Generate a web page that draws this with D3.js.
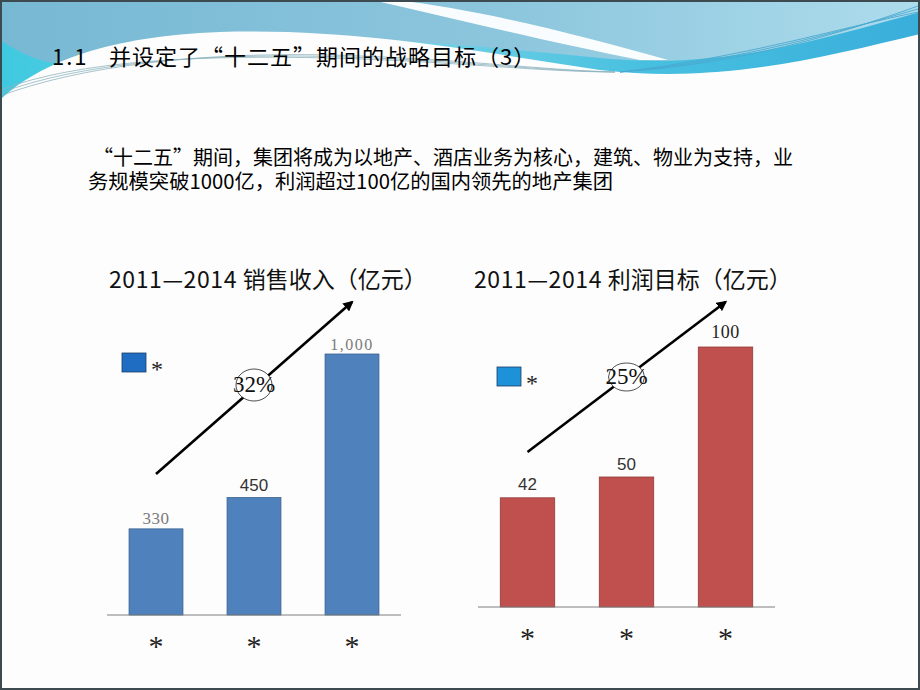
<!DOCTYPE html>
<html>
<head>
<meta charset="utf-8">
<script src="https://cdn.jsdelivr.net/npm/d3@7"></script>
<style>
  body { margin: 0; background: #fff; }
  svg { display: block; }
</style>
</head>
<body>
<div id="slide"></div>
<script>
  // datos del grafico
  const categorias = ["*", "*", "*"];
  const ventas = [330, 450, 1000];
  const ventasEtiquetas = ["330", "450", "1,000"];
  const beneficios = [42, 50, 100];
  const beneficiosEtiquetas = ["42", "50", "100"];
  const crecimiento = ["32%", "25%"];
  const leyenda = "*";
  const titulosAnyos = "2011\u20142014";
  const titulos = ["销售收入（亿元）", "利润目标（亿元）"];

  const width = 920, height = 690;
  const cjk = "'Noto Sans CJK SC', 'Noto Sans', sans-serif";
  const serif = "'Liberation Serif', 'DejaVu Serif', serif";
  const sans = "'Liberation Sans', Arial, sans-serif";

  const svg = d3.select("#slide")
    .append("svg")
    .attr("width", width)
    .attr("height", height);

  const defs = svg.append("defs");

  const gBase = defs.append("linearGradient").attr("id", "gBase")
    .attr("x1", 0).attr("x2", 1).attr("y1", 0).attr("y2", 0);
  gBase.append("stop").attr("offset", "0%").attr("stop-color", "#77b8d3");
  gBase.append("stop").attr("offset", "55%").attr("stop-color", "#8cc6dd");
  gBase.append("stop").attr("offset", "100%").attr("stop-color", "#addcec");

  const gTeal = defs.append("linearGradient").attr("id", "gTeal")
    .attr("x1", 0).attr("x2", 1).attr("y1", 0).attr("y2", 0);
  gTeal.append("stop").attr("offset", "0%").attr("stop-color", "#3ec9e0");
  gTeal.append("stop").attr("offset", "40%").attr("stop-color", "#7fd6e6");
  gTeal.append("stop").attr("offset", "70%").attr("stop-color", "#47c0e0");
  gTeal.append("stop").attr("offset", "100%").attr("stop-color", "#3aaedb");

  defs.append("marker")
    .attr("id", "flecha")
    .attr("viewBox", "0 0 10 10")
    .attr("refX", 8).attr("refY", 5)
    .attr("markerWidth", 4).attr("markerHeight", 4)
    .attr("orient", "auto")
    .append("path")
    .attr("d", "M0,0 L10,5 L0,10 Z")
    .attr("fill", "#000");

  // fondo
  svg.append("rect").attr("width", width).attr("height", height).attr("fill", "#fdfdfd");

  // cabecera azul
  svg.append("rect").attr("width", width).attr("height", 115).attr("fill", "url(#gBase)");
  svg.append("path")
    .attr("d", "M0,40 C30,60 60,70 90,60 C200,20 420,40 600,58 C720,70 820,40 920,12 L920,60 L0,115 Z")
    .attr("fill", "url(#gTeal)");
  // franja blanca diagonal
  svg.append("path")
    .attr("d", "M395,0 C470,8 570,32 668,60 L640,60 C540,40 460,20 372,0 Z")
    .attr("fill", "#fff").attr("opacity", 0.95);
  // zona blanca principal
  svg.append("path")
    .attr("d", "M0,100 C40,62 110,36 220,32 C360,28 480,52 600,70 C720,84 820,58 920,34 L920,690 L0,690 Z")
    .attr("fill", "#fdfdfd");
  // lineas finas
  [0, 3, 6].forEach(o => {
    svg.append("path")
      .attr("d", `M0,${96 - o} C80,${66 - o} 200,${52 + o / 2} 330,${55 + o / 2} C450,${58 + o / 2} 540,${70 + o / 3} 615,${72}`)
      .attr("fill", "none").attr("stroke", "#8fb4bf").attr("stroke-width", 0.8);
    svg.append("path")
      .attr("d", `M620,72 C740,${64 - o} 840,${34 - o} 918,${6 + o}`)
      .attr("fill", "none").attr("stroke", "#4aa9cf").attr("stroke-width", 0.9);
  });

  // titulo
  const titulo = svg.append("text")
    .attr("y", 65)
    .attr("font-family", cjk).attr("font-size", 22).attr("fill", "#000");
  titulo.append("tspan").attr("x", 52).attr("letter-spacing", 2).text("1.1");
  titulo.append("tspan").attr("x", 109).attr("letter-spacing", 1).text("并设定了“十二五”期间的战略目标（3）");

  // parrafo
  svg.append("text")
    .attr("x", 93).attr("y", 165)
    .attr("font-family", cjk).attr("font-size", 20).attr("fill", "#000")
    .text("“十二五”期间，集团将成为以地产、酒店业务为核心，建筑、物业为支持，业");
  svg.append("text")
    .attr("x", 88).attr("y", 189)
    .attr("font-family", cjk).attr("font-size", 20.3).attr("fill", "#000")
    .text("务规模突破1000亿，利润超过100亿的国内领先的地产集团");

  // funcion para dibujar cada grafico
  function grafico(cfg) {
    const g = svg.append("g");
    const x = d3.scaleBand()
      .domain(d3.range(cfg.valores.length))
      .range(cfg.rangoX)
      .paddingInner(0.45)
      .paddingOuter(0.225);
    const y = d3.scaleLinear()
      .domain([0, cfg.max])
      .range([cfg.base, cfg.top]);

    const t = g.append("text")
      .attr("x", cfg.tituloX).attr("y", 288)
      .attr("font-family", cjk).attr("font-size", 23).attr("fill", "#111");
    t.append("tspan").attr("letter-spacing", 0.6).text(titulosAnyos + " ");
    t.append("tspan").text(cfg.titulo);

    // flecha de crecimiento
    const x0 = x(0) + x.bandwidth() / 2, x1 = x(2) + x.bandwidth() / 2;
    const y0 = cfg.flechaY0, y1 = 302;
    g.append("line")
      .attr("x1", x0).attr("y1", y0)
      .attr("x2", x1).attr("y2", y1)
      .attr("stroke", "#000").attr("stroke-width", 2.6)
      .attr("marker-end", "url(#flecha)");
    const mx = (x0 + x1) / 2, my = (y0 + y1) / 2 + cfg.elDy;
    g.append("ellipse")
      .attr("cx", mx).attr("cy", my)
      .attr("rx", 18).attr("ry", cfg.ry)
      .attr("fill", "#fff").attr("stroke", "#222").attr("stroke-width", 0.8);
    g.append("text")
      .attr("x", mx).attr("y", my + 7)
      .attr("text-anchor", "middle")
      .attr("font-family", serif).attr("font-size", 23).attr("fill", "#111")
      .text(cfg.crec);

    // leyenda
    g.append("rect")
      .attr("x", cfg.leyenda[0]).attr("y", cfg.leyenda[1])
      .attr("width", 24).attr("height", 19)
      .attr("fill", cfg.colorLeyenda).attr("stroke", "#1d3d66").attr("stroke-width", 0.8);
    g.append("text")
      .attr("x", cfg.leyenda[0] + 29).attr("y", cfg.leyenda[1] + 24)
      .attr("font-family", serif).attr("font-size", 24).attr("fill", "#222")
      .text(leyenda);

    // barras
    g.selectAll("rect.barra")
      .data(cfg.valores)
      .enter()
      .append("rect")
      .attr("class", "barra")
      .attr("x", (d, i) => x(i))
      .attr("y", d => y(d))
      .attr("width", x.bandwidth())
      .attr("height", d => y(0) - y(d))
      .attr("fill", cfg.color)
      .attr("stroke", cfg.borde)
      .attr("stroke-width", 0.8);

    // etiquetas
    g.selectAll("text.etiqueta")
      .data(cfg.valores)
      .enter()
      .append("text")
      .attr("class", "etiqueta")
      .attr("x", (d, i) => x(i) + x.bandwidth() / 2)
      .attr("y", (d, i) => y(d) - cfg.etiquetaDy[i])
      .attr("text-anchor", "middle")
      .attr("font-family", (d, i) => cfg.etiquetaFuente[i])
      .attr("font-size", (d, i) => cfg.etiquetaTam[i])
      .attr("letter-spacing", (d, i) => cfg.etiquetaEsp[i])
      .attr("fill", (d, i) => cfg.etiquetaColor[i])
      .text((d, i) => cfg.etiquetas[i]);

    // eje
    g.append("line")
      .attr("x1", cfg.rangoX[0]).attr("x2", cfg.rangoX[1])
      .attr("y1", y(0)).attr("y2", y(0))
      .attr("stroke", "#7f7f7f").attr("stroke-width", 1);

    g.selectAll("text.cat")
      .data(categorias)
      .enter()
      .append("text")
      .attr("class", "cat")
      .attr("x", (d, i) => x(i) + x.bandwidth() / 2)
      .attr("y", y(0) + 41)
      .attr("text-anchor", "middle")
      .attr("font-family", serif).attr("font-size", 30).attr("fill", "#222")
      .text(d => d);
  }

  grafico({
    valores: ventas, etiquetas: ventasEtiquetas, max: 1000,
    rangoX: [107, 401], base: 615, top: 354,
    titulo: titulos[0], tituloX: 109,
    color: "#4f81bd", borde: "#3b638f",
    flechaY0: 474, elDy: -3, ry: 16, crec: crecimiento[0],
    leyenda: [122, 353], colorLeyenda: "#1f6dc2",
    etiquetaDy: [5, 7, 4],
    etiquetaFuente: [serif, sans, serif],
    etiquetaTam: [17, 17, 16],
    etiquetaEsp: [0.5, 0, 1.5],
    etiquetaColor: ["#7a7a7a", "#333", "#7a7a7a"]
  });

  grafico({
    valores: beneficios, etiquetas: beneficiosEtiquetas, max: 100,
    rangoX: [478, 775], base: 607, top: 347,
    titulo: titulos[1], tituloX: 474,
    color: "#c0504d", borde: "#8e3a38",
    flechaY0: 452, elDy: 0, ry: 14, crec: crecimiento[1],
    leyenda: [497, 367], colorLeyenda: "#1e92d8",
    etiquetaDy: [8, 7, 9],
    etiquetaFuente: [sans, sans, serif],
    etiquetaTam: [17, 17, 18],
    etiquetaEsp: [0, 0, 0.5],
    etiquetaColor: ["#333", "#333", "#222"]
  });

  // borde de la diapositiva
  svg.append("rect")
    .attr("x", 1).attr("y", 1)
    .attr("width", width - 2).attr("height", height - 2)
    .attr("fill", "none").attr("stroke", "#3d4a50").attr("stroke-width", 2);
</script>
</body>
</html>
